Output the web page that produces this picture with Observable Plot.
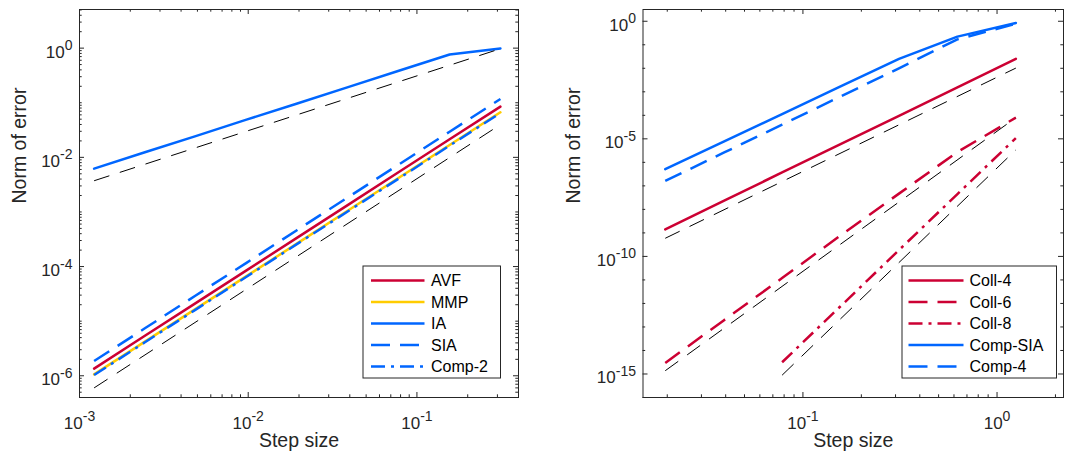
<!DOCTYPE html>
<html>
<head>
<meta charset="utf-8">
<script src="https://cdn.jsdelivr.net/npm/d3@7"></script>
<script src="https://cdn.jsdelivr.net/npm/@observablehq/plot@0.6"></script>
<style>
  body { margin: 0; background: #fff; }
  #wrap { position: relative; width: 1068px; height: 463px; font-family: "Liberation Sans", Arial, sans-serif; }
  #wrap > svg { position: absolute; top: 0; }
</style>
</head>
<body>
<div id="wrap"></div>
<script>
// ---------- colours ----------
const INK = "#262626";
const RED = "#cc0033", YEL = "#ffcc00", BLUE = "#0066ff";

// ---------- left panel data ----------
const stepLeft  = [0.001220703125, 0.00244140625, 0.0048828125, 0.009765625, 0.01953125, 0.0390625, 0.078125, 0.15625, 0.3125];
const errAVF    = [1.35e-6, 5.4e-6, 2.14e-5, 8.5e-5, 3.39e-4, 1.35e-3, 5.4e-3, 2.14e-2, 8.5e-2];
const errMMP    = [1.06e-6, 4.22e-6, 1.68e-5, 6.68e-5, 2.66e-4, 1.06e-3, 4.22e-3, 1.68e-2, 6.68e-2];
const errIA     = [6.2e-3, 1.24e-2, 2.45e-2, 4.9e-2, 9.7e-2, 0.193, 0.385, 0.766, 0.985];
const errSIA    = [1.86e-6, 7.4e-6, 2.95e-5, 1.17e-4, 4.68e-4, 1.86e-3, 7.4e-3, 2.95e-2, 0.117];
const errComp2  = [1.03e-6, 4.1e-6, 1.63e-5, 6.5e-5, 2.6e-4, 1.03e-3, 4.1e-3, 1.64e-2, 6.5e-2];
const refStepLeft = [0.001220703125, 0.3125];
const refOrder1   = [3.73e-3, 0.975];
const refOrder2   = [6.0e-7, 0.0398];

// ---------- right panel data ----------
const stepRight  = [0.01953125, 0.0390625, 0.078125, 0.15625, 0.3125, 0.625, 1.25];
const errColl4   = [1.41e-9, 2.29e-8, 3.72e-7, 5.9e-6, 9.5e-5, 1.55e-3, 2.51e-2];
const errColl6   = [2.95e-15, 1.9e-13, 1.2e-11, 7.76e-10, 4.68e-8, 2.75e-6, 7.94e-5];
const stepColl8  = [0.078125, 0.15625, 0.3125, 0.625, 1.25];
const errColl8   = [3.16e-15, 7.6e-13, 1.86e-10, 4.47e-8, 1.07e-5];
const errCompSIA = [5.1e-7, 7.6e-6, 1.12e-4, 1.7e-3, 2.51e-2, 0.222, 0.85];
const errComp4   = [1.62e-7, 2.57e-6, 3.98e-5, 6.3e-4, 1.0e-2, 0.17, 0.776];
const refStepRight = [0.01953125, 1.25];
const refOrder4    = [5.9e-10, 1.02e-2];
const refOrder6    = [1.38e-15, 7.94e-5];
const refStepColl8 = [0.078125, 1.25];
const refOrder8    = [8.9e-16, 3.39e-6];

// ---------- axes / ticks ----------
const xDomainLeft  = [1e-3, 0.4];
const yDomainLeft  = [4e-7, 5.1];
const xDomainRight = [0.015, 2.2];
const yDomainRight = [1e-16, 3.16];
const xLabelTicksLeft  = [1e-3, 1e-2, 1e-1];
const yLabelTicksLeft  = [1e-6, 1e-4, 1e-2, 1];
const xLabelTicksRight = [1e-1, 1];
const yLabelTicksRight = [1e-15, 1e-10, 1e-5, 1];

function minorTicks(domain, majors, mults) {
  const out = [];
  const e0 = Math.floor(Math.log10(domain[0])) - 1, e1 = Math.ceil(Math.log10(domain[1]));
  for (let e = e0; e <= e1; e++) for (const k of mults) {
    const v = +(k * Math.pow(10, e)).toPrecision(6);
    if (v >= domain[0] * 0.999 && v <= domain[1] * 1.001 && !majors.some(m => Math.abs(m - v) / v < 1e-6)) out.push(v);
  }
  return out;
}
const ALL = [1,2,3,4,5,6,7,8,9], SUB = [2,3,4,5,6,7,8,9];

const expFmt = d => "10^" + Math.round(Math.log10(d));

function panel(o) {
  const W = 534, H = 463, mt = 9, mb = 66;
  const ph = H - mt - mb, pw = W - o.ml - o.mr;
  const MAJ = 5, MIN = 2.7;
  const lineMarks = o.series.map(s => Plot.line(s.x.map((h, i) => ({h, e: s.y[i]})), {
    x: "h", y: "e", stroke: s.color, strokeWidth: s.w ?? 2.5,
    strokeDasharray: s.dash ?? null, strokeLinecap: s.dash ? "butt" : "round", strokeLinejoin: "round"
  }));
  const xMinor = minorTicks(o.xDomain, o.xMajor, SUB);
  const yMinor = minorTicks(o.yDomain, o.yMajor, o.yMinorMults);
  return Plot.plot({
    width: W, height: H, marginLeft: o.ml, marginRight: o.mr, marginTop: mt, marginBottom: mb,
    x: {type: "log", domain: o.xDomain},
    y: {type: "log", domain: o.yDomain},
    style: {fontFamily: '"Liberation Sans", Arial, sans-serif', color: INK, background: "transparent", overflow: "visible"},
    marks: [
      ...lineMarks,
      Plot.frame({stroke: INK, strokeWidth: 1}),
      // ticks inside, mirrored on all four sides
      Plot.tickX(o.xMajor, {x: d => d, insetTop: ph - MAJ, stroke: INK}),
      Plot.tickX(o.xMajor, {x: d => d, insetBottom: ph - MAJ, stroke: INK}),
      Plot.tickX(xMinor, {x: d => d, insetTop: ph - MIN, stroke: INK}),
      Plot.tickX(xMinor, {x: d => d, insetBottom: ph - MIN, stroke: INK}),
      Plot.tickY(o.yMajor, {y: d => d, insetRight: pw - MAJ, stroke: INK}),
      Plot.tickY(o.yMajor, {y: d => d, insetLeft: pw - MAJ, stroke: INK}),
      Plot.tickY(yMinor, {y: d => d, insetRight: pw - MIN, stroke: INK}),
      Plot.tickY(yMinor, {y: d => d, insetLeft: pw - MIN, stroke: INK}),
      Plot.axisX(o.xMajor, {tickSize: 0, tickPadding: 19, tickFormat: expFmt, fontSize: 17, label: null, fill: INK}),
      Plot.axisY(o.yMajor, {tickSize: 0, tickPadding: 7, dy: 4, tickFormat: expFmt, fontSize: 17, label: null, fill: INK}),
      Plot.text(["Step size"], {text: d => d, frameAnchor: "bottom", dy: 49.5, fontSize: 19.5, fill: INK}),
      Plot.text(["Norm of error"], {text: d => d, frameAnchor: "left", rotate: -90, dx: o.ylabDx, fontSize: 19.5, fill: INK})
    ]
  });
}

function superscripts(svg) {
  d3.select(svg).selectAll("text").each(function () {
    const t = this.textContent;
    if (!t.includes("^")) return;
    const [base, ex] = t.split("^");
    const sel = d3.select(this);
    sel.text(null);
    sel.style("font-size", "17px");
    sel.append("tspan").style("font-size", "17px").text(base);
    sel.append("tspan").attr("dy", -7.5).style("font-size", "14px").text(ex);
  });
}

function legend(svgParent, left, top, w, h, entries, sx0, sx1, tx) {
  const g = d3.select(svgParent).append("svg")
    .attr("width", w + 2).attr("height", h + 2)
    .style("position", "absolute").style("left", (left - 1) + "px").style("top", (top - 1) + "px");
  g.append("rect").attr("x", 1).attr("y", 1).attr("width", w).attr("height", h)
    .attr("fill", "#fff").attr("stroke", INK).attr("stroke-width", 1);
  entries.forEach((e, i) => {
    const y = 1 + 14.5 + i * 21.5;
    g.append("line").attr("x1", 1 + sx0).attr("x2", 1 + sx1).attr("y1", y).attr("y2", y)
      .attr("stroke", e.color).attr("stroke-width", 2.5)
      .attr("stroke-dasharray", e.dash ?? null).attr("stroke-linecap", "butt");
    g.append("text").attr("x", 1 + tx).attr("y", y + 5.8)
      .attr("font-size", 16).attr("fill", "#000")
      .attr("font-family", '"Liberation Sans", Arial, sans-serif').text(e.name);
  });
}

const wrap = document.getElementById("wrap");
const DASH = "18,10", DASHDOT = "14,6,3,6", REFDASH = "16,11";

const left = panel({
  ml: 79, mr: 16, xDomain: xDomainLeft, yDomain: yDomainLeft,
  xMajor: xLabelTicksLeft, yMajor: yLabelTicksLeft, yMinorMults: ALL, ylabDx: -60,
  series: [
    {x: stepLeft, y: errAVF, color: RED},
    {x: stepLeft, y: errMMP, color: YEL},
    {x: stepLeft, y: errIA, color: BLUE},
    {x: stepLeft, y: errSIA, color: BLUE, dash: DASH},
    {x: stepLeft, y: errComp2, color: BLUE, dash: DASHDOT},
    {x: refStepLeft, y: refOrder1, color: "#000", w: 1, dash: REFDASH},
    {x: refStepLeft, y: refOrder2, color: "#000", w: 1, dash: REFDASH}
  ]
});
left.style.left = "0px";
superscripts(left);
wrap.appendChild(left);

const right = panel({
  ml: 108.5, mr: 5, xDomain: xDomainRight, yDomain: yDomainRight,
  xMajor: xLabelTicksRight, yMajor: yLabelTicksRight, yMinorMults: [1], ylabDx: -69,
  series: [
    {x: stepRight, y: errColl4, color: RED},
    {x: stepRight, y: errColl6, color: RED, dash: DASH},
    {x: stepColl8, y: errColl8, color: RED, dash: DASHDOT},
    {x: stepRight, y: errCompSIA, color: BLUE},
    {x: stepRight, y: errComp4, color: BLUE, dash: DASH},
    {x: refStepRight, y: refOrder4, color: "#000", w: 1, dash: REFDASH},
    {x: refStepRight, y: refOrder6, color: "#000", w: 1, dash: REFDASH},
    {x: refStepColl8, y: refOrder8, color: "#000", w: 1, dash: REFDASH}
  ]
});
right.style.left = "534px";
superscripts(right);
wrap.appendChild(right);

legend(wrap, 362.5, 265.5, 137.5, 112, [
  {name: "AVF", color: RED},
  {name: "MMP", color: YEL},
  {name: "IA", color: BLUE},
  {name: "SIA", color: BLUE, dash: "19,10"},
  {name: "Comp-2", color: BLUE, dash: DASHDOT}
], 8, 61.5, 68);

legend(wrap, 901.5, 265.5, 154.5, 112, [
  {name: "Coll-4", color: RED},
  {name: "Coll-6", color: RED, dash: "19,10"},
  {name: "Coll-8", color: RED, dash: DASHDOT},
  {name: "Comp-SIA", color: BLUE},
  {name: "Comp-4", color: BLUE, dash: "19,10"}
], 6.5, 61.5, 67.5);
</script>
</body>
</html>
